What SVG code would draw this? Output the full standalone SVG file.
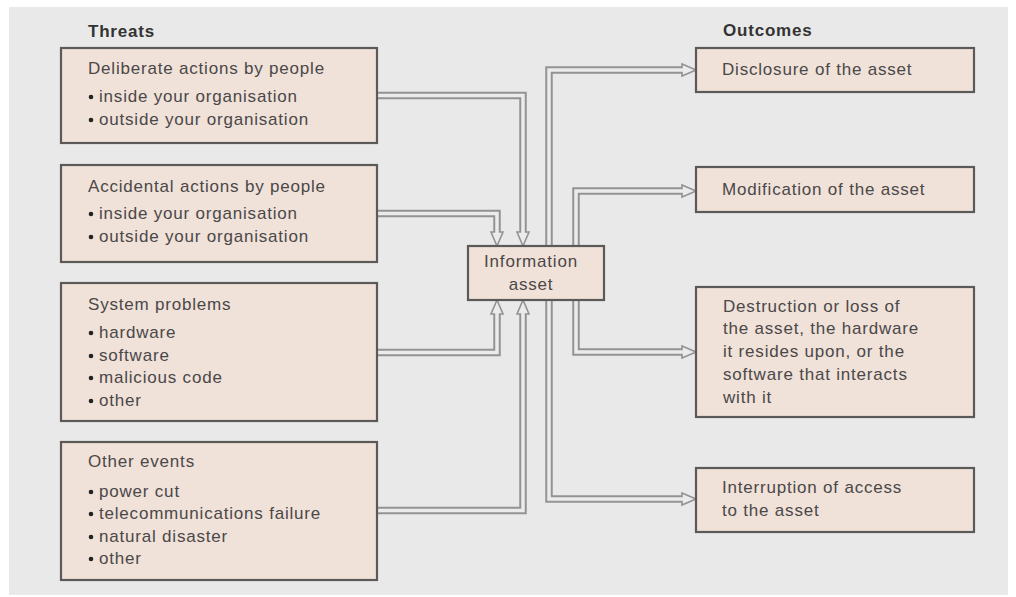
<svg xmlns="http://www.w3.org/2000/svg" width="1016" height="597" viewBox="0 0 1016 597">
<style>
.bg{fill:#e9e9e9}
.box{fill:#f0e1d9;stroke:#5c5a59;stroke-width:2.2}
.t{font-family:"Liberation Sans",Arial,sans-serif;font-size:17px;letter-spacing:0.8px;fill:#4a4848}
.h{font-weight:bold;fill:#333}
.dot{fill:#222}
.po{fill:none;stroke:#939393;stroke-width:7.5;stroke-linejoin:miter}
.pi{fill:none;stroke:#ebebeb;stroke-width:3.5;stroke-linejoin:miter}
.ah{fill:#ebebeb;stroke:#939393;stroke-width:1.6;stroke-linejoin:miter}
</style>
<rect x="0" y="0" width="1016" height="597" fill="#ffffff"/>
<rect class="bg" x="9" y="7" width="999" height="588"/>
<text class="t h" x="88" y="37">Threats</text>
<text class="t h" x="723" y="36">Outcomes</text>
<g id="connectors">
<path class="po" d="M376 95.5 H523 V232"/>
<path class="po" d="M376 213.5 H497 V232"/>
<path class="po" d="M376 352.5 H497 V314"/>
<path class="po" d="M376 510.5 H523 V314"/>
<path class="po" d="M682 70 H549 V499 H682"/>
<path class="po" d="M682 191 H576 V352 H682"/>
<polygon class="ah" points="517,232 529,232 523,246"/>
<polygon class="ah" points="491,232 503,232 497,246"/>
<polygon class="ah" points="491,314 503,314 497,300"/>
<polygon class="ah" points="517,314 529,314 523,300"/>
<polygon class="ah" points="682,64 682,76 696,70"/>
<polygon class="ah" points="682,493 682,505 696,499"/>
<polygon class="ah" points="682,185 682,197 696,191"/>
<polygon class="ah" points="682,346 682,358 696,352"/>
<path class="pi" d="M376 95.5 H523 V237"/>
<path class="pi" d="M376 213.5 H497 V237"/>
<path class="pi" d="M376 352.5 H497 V309"/>
<path class="pi" d="M376 510.5 H523 V309"/>
<path class="pi" d="M687 70 H549 V499 H687"/>
<path class="pi" d="M687 191 H576 V352 H687"/>
</g>
<g id="deliberate">
<rect class="box" x="61" y="48" width="316" height="95"/>
<text class="t" x="88" y="74">Deliberate actions by people</text>
<circle class="dot" cx="91" cy="97" r="2.3"/>
<text class="t" x="99" y="102">inside your organisation</text>
<circle class="dot" cx="91" cy="120" r="2.3"/>
<text class="t" x="99" y="125">outside your organisation</text>
</g>
<g id="accidental">
<rect class="box" x="61" y="165" width="316" height="97"/>
<text class="t" x="88" y="192">Accidental actions by people</text>
<circle class="dot" cx="91" cy="214" r="2.3"/>
<text class="t" x="99" y="219">inside your organisation</text>
<circle class="dot" cx="91" cy="237" r="2.3"/>
<text class="t" x="99" y="242">outside your organisation</text>
</g>
<g id="system">
<rect class="box" x="61" y="283" width="316" height="138"/>
<text class="t" x="88" y="310">System problems</text>
<circle class="dot" cx="91" cy="333" r="2.3"/>
<text class="t" x="99" y="338">hardware</text>
<circle class="dot" cx="91" cy="356" r="2.3"/>
<text class="t" x="99" y="361">software</text>
<circle class="dot" cx="91" cy="378" r="2.3"/>
<text class="t" x="99" y="383">malicious code</text>
<circle class="dot" cx="91" cy="401" r="2.3"/>
<text class="t" x="99" y="406">other</text>
</g>
<g id="other">
<rect class="box" x="61" y="442" width="316" height="138"/>
<text class="t" x="88" y="467">Other events</text>
<circle class="dot" cx="91" cy="492" r="2.3"/>
<text class="t" x="99" y="497">power cut</text>
<circle class="dot" cx="91" cy="514" r="2.3"/>
<text class="t" x="99" y="519">telecommunications failure</text>
<circle class="dot" cx="91" cy="537" r="2.3"/>
<text class="t" x="99" y="542">natural disaster</text>
<circle class="dot" cx="91" cy="559" r="2.3"/>
<text class="t" x="99" y="564">other</text>
</g>
<g id="asset">
<rect class="box" x="468" y="246" width="136" height="54"/>
<text class="t" x="531" y="267" text-anchor="middle">Information</text>
<text class="t" x="531" y="290" text-anchor="middle">asset</text>
</g>
<g id="disclosure">
<rect class="box" x="696" y="48" width="278" height="44"/>
<text class="t" x="722" y="75">Disclosure of the asset</text>
</g>
<g id="modification">
<rect class="box" x="696" y="167" width="278" height="45"/>
<text class="t" x="722" y="195">Modification of the asset</text>
</g>
<g id="destruction">
<rect class="box" x="696" y="287" width="278" height="130"/>
<text class="t" x="723" y="312">Destruction or loss of</text>
<text class="t" x="723" y="334">the asset, the hardware</text>
<text class="t" x="723" y="357">it resides upon, or the</text>
<text class="t" x="723" y="380">software that interacts</text>
<text class="t" x="723" y="403">with it</text>
</g>
<g id="interruption">
<rect class="box" x="696" y="468" width="278" height="64"/>
<text class="t" x="722" y="493">Interruption of access</text>
<text class="t" x="722" y="516">to the asset</text>
</g>
</svg>
